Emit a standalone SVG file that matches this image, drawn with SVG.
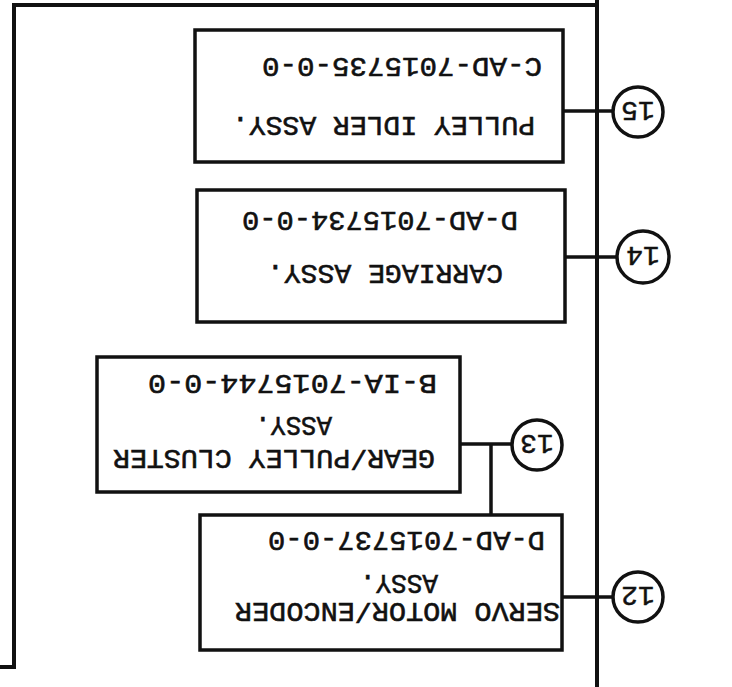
<svg xmlns="http://www.w3.org/2000/svg" width="732" height="687" viewBox="0 0 732 687">
<style>
.box{fill:#fff;stroke:#111;stroke-width:3.5}
.frame{fill:none;stroke:#111;stroke-width:4}
.conn{fill:none;stroke:#111;stroke-width:3.5}
.circ{fill:#fff;stroke:#111;stroke-width:3.5}
.lbl{font-family:"Liberation Mono","DejaVu Sans Mono",monospace;font-size:28px;fill:#111;stroke:#111;stroke-width:0.6}
.num{font-family:"Liberation Mono","DejaVu Sans Mono",monospace;font-size:28px;fill:#111;text-anchor:middle;stroke:#111;stroke-width:0.5}
</style>
<rect width="732" height="687" fill="#fff"/>
<g transform="rotate(180 366 343.5)">
  <g id="frame">
    <path class="frame" d="M135 0 V687"/>
    <path class="frame" d="M135 682 H718 V20 H732"/>
  </g>
  <g id="connectors">
    <path class="conn" d="M119 576 H169"/>
    <path class="conn" d="M115 430 H167"/>
    <path class="conn" d="M220 243 H272"/>
    <path class="conn" d="M241 243 V172"/>
    <path class="conn" d="M119 90 H170"/>
  </g>
  <g id="node15">
    <rect class="box" x="169" y="525" width="368" height="132"/>
    <text class="lbl" x="197" y="570" textLength="303" lengthAdjust="spacingAndGlyphs">PULLEY IDLER ASSY.</text>
    <text class="lbl" x="190" y="629" textLength="280" lengthAdjust="spacingAndGlyphs">C-AD-7015735-0-0</text>
  </g>
  <g id="node14">
    <rect class="box" x="167" y="365" width="368" height="132"/>
    <text class="lbl" x="229" y="422" textLength="236" lengthAdjust="spacingAndGlyphs">CARRIAGE ASSY.</text>
    <text class="lbl" x="214" y="475" textLength="276" lengthAdjust="spacingAndGlyphs">D-AD-7015734-0-0</text>
  </g>
  <g id="node13">
    <rect class="box" x="272" y="195" width="363" height="135"/>
    <text class="lbl" x="297" y="237" textLength="322" lengthAdjust="spacingAndGlyphs">GEAR/PULLEY CLUSTER</text>
    <text class="lbl" x="400" y="270" textLength="77" lengthAdjust="spacingAndGlyphs">ASSY.</text>
    <text class="lbl" x="295" y="312" textLength="289" lengthAdjust="spacingAndGlyphs">B-IA-7015744-0-0</text>
  </g>
  <g id="node12">
    <rect class="box" x="170" y="37" width="362" height="135"/>
    <text class="lbl" x="172" y="84" textLength="325" lengthAdjust="spacingAndGlyphs">SERVO MOTOR/ENCODER</text>
    <text class="lbl" x="294" y="112" textLength="78" lengthAdjust="spacingAndGlyphs">ASSY.</text>
    <text class="lbl" x="187" y="155" textLength="277" lengthAdjust="spacingAndGlyphs">D-AD-7015737-0-0</text>
  </g>
  <g id="callout15">
    <circle class="circ" cx="94" cy="575" r="25"/>
    <text class="num" x="94" y="585">15</text>
  </g>
  <g id="callout14">
    <circle class="circ" cx="89" cy="430" r="26"/>
    <text class="num" x="89" y="440">14</text>
  </g>
  <g id="callout13">
    <circle class="circ" cx="195" cy="242" r="25"/>
    <text class="num" x="195" y="252">13</text>
  </g>
  <g id="callout12">
    <circle class="circ" cx="94" cy="90" r="25"/>
    <text class="num" x="94" y="100">12</text>
  </g>
</g>
</svg>
